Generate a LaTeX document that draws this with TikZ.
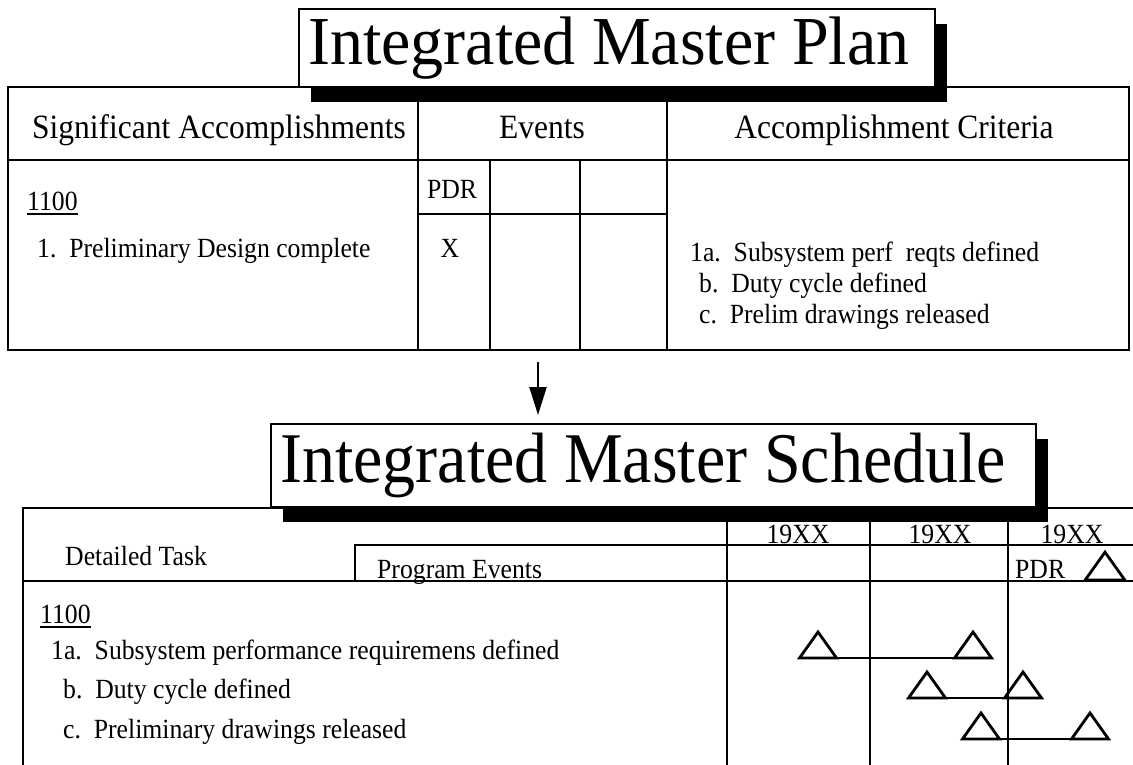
\documentclass[tikz,border=0pt]{standalone}
\usepackage{fontspec}
\setmainfont{Liberation Serif}
\usetikzlibrary{arrows.meta,shadows,calc}
\newcommand\vstr[1]{\scalebox{1}[1.08]{#1}}
\begin{document}
\begin{tikzpicture}[x=1pt,y=-1pt,
  tl/.style={draw=black, line width=2.4pt, line cap=rect},
  txt/.style={inner sep=0pt, anchor=base west, font=\fontsize{25.7}{28}\selectfont},
  hdr/.style={inner sep=0pt, anchor=base, font=\fontsize{31.5}{34}\selectfont},
  ctr/.style={inner sep=0pt, anchor=base, font=\fontsize{25.7}{28}\selectfont},
  titlebox/.style={draw=black, fill=white, line width=2pt, inner sep=0pt, anchor=north west,
    drop shadow={shadow xshift=12pt, shadow yshift=-15pt, fill=black, opacity=1}},
  ttl/.style={inner sep=0pt, anchor=base west, font=\fontsize{66}{70}\selectfont},
  ul/.style={line width=1.6pt},
  bar/.style={line width=2.8pt},
  milestone/.pic={
    \draw[line width=2.8pt, line join=miter] (-18.5,0) -- (0,-26) -- (18.5,0) -- cycle;
    \coordinate (-l) at (-18.5,0);
    \coordinate (-r) at (18.5,0);
  }]
\fill[white] (0,0) rectangle (1133,765);
\useasboundingbox (0,0) rectangle (1133,765);

% ---------------- Integrated Master Plan table ----------------
\draw[tl] (8,87) rectangle (1129,350);
\draw[tl] (8,160) -- (1129,160);
\draw[tl] (418,87) -- (418,350);
\draw[tl] (667,87) -- (667,350);
\draw[tl] (490,160) -- (490,350);
\draw[tl] (580,160) -- (580,350);
\draw[tl] (418,214) -- (667,214);

\node[titlebox, minimum width=636pt, minimum height=78pt] (box1) at (298,8) {};
\node[ttl] (ttl1) at (308,65) {\scalebox{1}[1.04]{Integrated Master Plan}};

\node[hdr] (hSA) at (219,139) {\vstr{Significant Accomplishments}};
\node[hdr] (hEv) at (542,139) {\vstr{Events}};
\node[hdr] (hAC) at (894,139) {\vstr{Accomplishment Criteria}};

\node[txt] (p1100) at (27,210) {\vstr{1100}};
\draw[ul] ([yshift=-4pt]p1100.base west) -- ([yshift=-4pt]p1100.base east);
\node[txt] (pPD) at (37,257) {\vstr{1.\ \ Preliminary Design complete}};
\node[ctr] (pPDR) at (452,198) {\vstr{PDR}};
\node[ctr] (pX) at (450,257) {\vstr{X}};
\node[txt] (c1a) at (690,261) {\vstr{1a.\ \ Subsystem perf\ \ reqts defined}};
\node[txt] (c1b) at (699,292) {\vstr{b.\ \ Duty cycle defined}};
\node[txt] (c1c) at (699,323) {\vstr{c.\ \ Prelim drawings released}};

% ---------------- Integrated Master Schedule table ----------------
\draw[tl] (23,508) -- (1140,508);
\draw[tl] (23,508) -- (23,770);
\draw[tl] (355,545) -- (1140,545);
\draw[tl] (355,545) -- (355,581);
\draw[tl] (23,581) -- (1140,581);
\draw[tl] (727,508) -- (727,770);
\draw[tl] (870,508) -- (870,770);
\draw[tl] (1008,508) -- (1008,770);

\node[titlebox, minimum width=765pt, minimum height=83pt] (box2) at (270,423) {};
\node[ttl] (ttl2) at (280,482) {\scalebox{1}[1.08]{Integrated Master Schedule}};

\coordinate (arrS) at (538,362);
\draw[-{Triangle[width=17pt,length=28pt]}, line width=2.2pt, shorten >=8pt] (arrS) -- (arrS |- box2.north);

\node[txt] (sDT) at (65,565) {\vstr{Detailed Task}};
\node[txt] (sPE) at (377,578) {\vstr{Program Events}};
\node[ctr] (y1) at (798,543) {\vstr{19XX}};
\node[ctr] (y2) at (940,543) {\vstr{19XX}};
\node[ctr] (y3) at (1072,543) {\vstr{19XX}};
\node[txt] (sPDR) at (1015,578) {\vstr{PDR}};
\pic[scale=1.07] (mPDR) at (1105,580) {milestone};

\node[txt] (s1100) at (40,623) {\vstr{1100}};
\draw[ul] ([yshift=-4pt]s1100.base west) -- ([yshift=-4pt]s1100.base east);
\node[txt] (s1a) at (51,659) {\vstr{1a.\ \ Subsystem performance requiremens defined}};
\node[txt] (s1b) at (63,698) {\vstr{b.\ \ Duty cycle defined}};
\node[txt] (s1c) at (63,738) {\vstr{c.\ \ Preliminary drawings released}};

\pic (a1) at (818,658) {milestone};
\pic (a2) at (973,658) {milestone};
\draw[bar] (a1-r) -- (a2-l);
\pic (b1) at (927,698) {milestone};
\pic (b2) at (1023,698) {milestone};
\draw[bar] (b1-r) -- (b2-l);
\pic (c1) at (981,739) {milestone};
\pic (c2) at (1090,739) {milestone};
\draw[bar] (c1-r) -- (c2-l);
\end{tikzpicture}
\end{document}
